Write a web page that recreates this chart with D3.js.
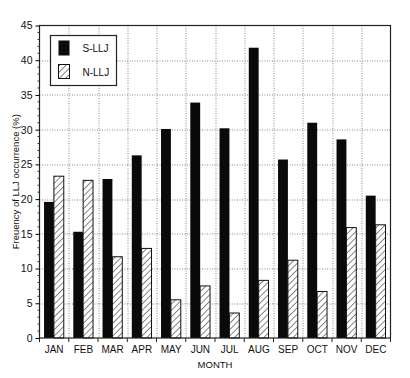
<!DOCTYPE html>
<html>
<head>
<meta charset="utf-8">
<script src="https://cdn.jsdelivr.net/npm/d3@7"></script>
<style>
	body { margin: 0; background: #fff; }
	text { font-family: "Liberation Sans", Arial, sans-serif; fill: #111; }
</style>
</head>
<body>
<div id="chart"></div>
<script>
// Chart data
var months = ["JAN", "FEB", "MAR", "APR", "MAY", "JUN", "JUL", "AUG", "SEP", "OCT", "NOV", "DEC"];
var sLLJ = [19.6, 15.3, 22.9, 26.3, 30.1, 33.9, 30.2, 41.8, 25.7, 31.0, 28.6, 20.5];
var nLLJ = [23.3, 22.7, 11.7, 12.9, 5.5, 7.5, 3.6, 8.3, 11.2, 6.7, 15.9, 16.3];
var yTicks = [0, 5, 10, 15, 20, 25, 30, 35, 40, 45];

var svgW = 410, svgH = 378;
var margin = { left: 39.5, top: 25.5, right: 19.5, bottom: 40 },
	width = svgW - margin.left - margin.right,
	height = svgH - margin.top - margin.bottom;

var svg = d3.select("#chart")
	.append("svg")
	.attr("width", svgW)
	.attr("height", svgH)
	.append("g")
	.attr("transform", "translate(" + margin.left + "," + margin.top + ")");

// hatch pattern for N-LLJ
var defs = svg.append("defs");
var pat = defs.append("pattern")
	.attr("id", "hatch")
	.attr("patternUnits", "userSpaceOnUse")
	.attr("width", 4.5)
	.attr("height", 4.5)
	.attr("patternTransform", "rotate(45)");
pat.append("rect").attr("width", 4.5).attr("height", 4.5).attr("fill", "#fff");
pat.append("line")
	.attr("x1", 0).attr("y1", 0).attr("x2", 0).attr("y2", 4.5)
	.attr("stroke", "#222").attr("stroke-width", 1.1);

var x = d3.scaleBand()
	.domain(months)
	.range([0, width]);

var y = d3.scaleLinear()
	.domain([0, 45])
	.range([height, 0]);

var sub = d3.scaleBand()
	.domain(["S", "N"])
	.range([x.bandwidth() * 0.155, x.bandwidth() * 0.83]);

// grid
svg.append("g")
	.selectAll("line")
	.data(yTicks.slice(1, -1))
	.enter().append("line")
	.attr("x1", 0).attr("x2", width)
	.attr("y1", function(d) { return Math.round(y(d)) + 0.5; })
	.attr("y2", function(d) { return Math.round(y(d)) + 0.5; })
	.attr("stroke", "#888")
	.attr("stroke-dasharray", "1,1.5");

svg.append("g")
	.selectAll("line")
	.data(months.slice(1))
	.enter().append("line")
	.attr("x1", function(d) { return Math.round(x(d)) + 0.5; })
	.attr("x2", function(d) { return Math.round(x(d)) + 0.5; })
	.attr("y1", 0).attr("y2", height)
	.attr("stroke", "#888")
	.attr("stroke-dasharray", "1,1.5");

// bars
var groups = svg.selectAll(".month")
	.data(months)
	.enter().append("g")
	.attr("transform", function(d) { return "translate(" + x(d) + ",0)"; });

groups.append("rect")
	.attr("x", sub("S"))
	.attr("width", sub.bandwidth())
	.attr("y", function(d, i) { return y(sLLJ[i]); })
	.attr("height", function(d, i) { return height - y(sLLJ[i]); })
	.attr("fill", "#0a0a0a");

groups.append("rect")
	.attr("x", sub("N"))
	.attr("width", sub.bandwidth())
	.attr("y", function(d, i) { return y(nLLJ[i]); })
	.attr("height", function(d, i) { return height - y(nLLJ[i]); })
	.attr("fill", "url(#hatch)")
	.attr("stroke", "#111")
	.attr("stroke-width", 1);

// frame
svg.append("rect")
	.attr("width", width)
	.attr("height", height)
	.attr("fill", "none")
	.attr("stroke", "#222")
	.attr("stroke-width", 1.2);

// y axis with minor ticks
var yAxis = d3.axisLeft(y).tickValues(yTicks).tickSize(4).tickPadding(3);
var gY = svg.append("g").call(yAxis);
gY.select(".domain").remove();
gY.selectAll("text").attr("font-size", 10.5);
svg.append("g")
	.selectAll("line")
	.data(d3.range(0, 46).filter(function(d) { return d % 5 !== 0; }))
	.enter().append("line")
	.attr("x1", -2).attr("x2", 0)
	.attr("y1", function(d) { return y(d); })
	.attr("y2", function(d) { return y(d); })
	.attr("stroke", "#333");

// x axis: ticks at band edges, labels in the middle
var gX = svg.append("g").attr("transform", "translate(0," + height + ")");
gX.selectAll("line")
	.data(months.concat(["end"]))
	.enter().append("line")
	.attr("x1", function(d, i) { return i * x.step(); })
	.attr("x2", function(d, i) { return i * x.step(); })
	.attr("y1", 0).attr("y2", 4)
	.attr("stroke", "#222");
gX.selectAll("text")
	.data(months)
	.enter().append("text")
	.attr("x", function(d) { return x(d) + x.bandwidth() / 2; })
	.attr("y", 15)
	.attr("text-anchor", "middle")
	.attr("font-size", 10)
	.text(function(d) { return d; });

// axis titles
svg.append("text")
	.attr("x", width / 2)
	.attr("y", height + 30)
	.attr("text-anchor", "middle")
	.attr("font-size", 9.5)
	.text("MONTH");

svg.append("text")
	.attr("transform", "translate(-21," + (height / 2) + ") rotate(-90)")
	.attr("text-anchor", "middle")
	.attr("font-size", 9.5)
	.text("Freuency of LLJ occurrence (%)");

// legend
var legend = svg.append("g").attr("transform", "translate(11,10)");
legend.append("rect")
	.attr("width", 66).attr("height", 50)
	.attr("fill", "#fff")
	.attr("stroke", "#222")
	.attr("stroke-width", 1.2);
legend.append("rect")
	.attr("x", 8).attr("y", 5).attr("width", 11).attr("height", 15)
	.attr("fill", "#0a0a0a");
legend.append("rect")
	.attr("x", 8).attr("y", 29).attr("width", 11).attr("height", 14)
	.attr("fill", "url(#hatch)")
	.attr("stroke", "#111");
legend.append("text").attr("x", 32).attr("y", 16.5).attr("font-size", 10).text("S-LLJ");
legend.append("text").attr("x", 32).attr("y", 40).attr("font-size", 10).text("N-LLJ");
</script>
</body>
</html>
